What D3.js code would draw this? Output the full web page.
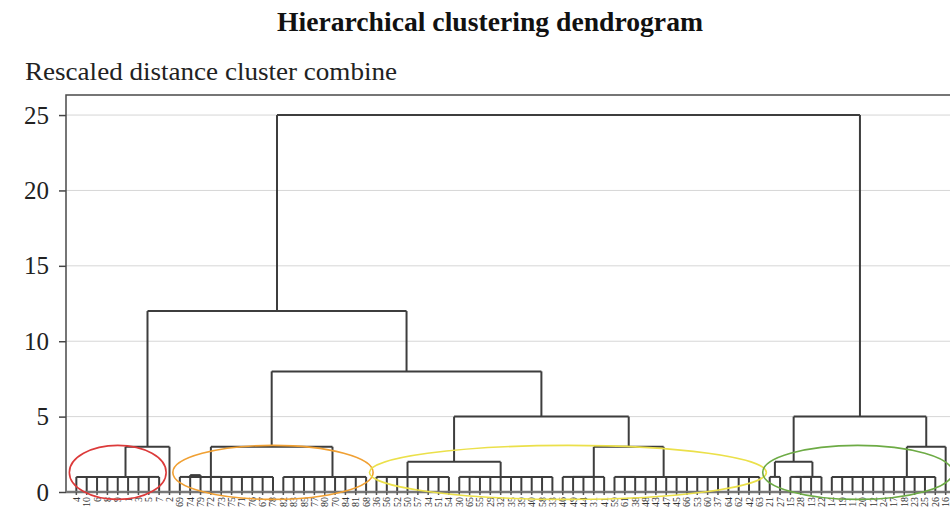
<!DOCTYPE html>
<html>
<head>
<meta charset="utf-8">
<script src="https://cdn.jsdelivr.net/npm/d3@7"></script>
<style>
  body { margin: 0; background: #fff; }
  svg { display: block; }
  text { font-family: "Liberation Serif", "DejaVu Serif", serif; }
</style>
</head>
<body>
<svg id="chart" width="950" height="511"></svg>
<script>
// leaf order along the bottom, left to right
var leafLabels = [4,10,6,8,9,1,3,5,7,2,
  69,74,79,72,73,75,71,76,67,78,82,83,85,77,80,70,84,81,68,
  36,56,52,50,57,34,51,54,30,65,55,29,32,35,39,40,58,33,
  46,49,44,31,41,59,61,38,48,43,47,45,66,53,60,37,64,62,42,63,
  21,27,15,28,13,22,14,19,11,20,12,24,17,18,23,25,26,16];

// merges: [name, rescaled distance, children (leaf labels or merge names)]
var merges = [
  ["r1", 1, [4,10,6,8,9,1]],
  ["r2", 1, [3,5,7]],
  ["red", 1, ["r1","r2"]],
  ["redGrp", 3, ["red", 2]],
  ["o1", 1.12, [74,79]],
  ["o2", 1, [69,"o1"]],
  ["o3", 1, [72,73]],
  ["o4", 1, [75,71,76,67,78]],
  ["o5", 1, ["o3","o4"]],
  ["orL", 1, ["o2","o5"]],
  ["o6", 1, [82,83,85,77,80,70]],
  ["o7", 1, [84,81,68]],
  ["orR", 1, ["o6","o7"]],
  ["orange", 3, ["orL","orR"]],
  ["y1", 1, [36,56,52]],
  ["y2", 1, [50,57,34,51,54]],
  ["yA", 1, ["y1","y2"]],
  ["y3", 1, [30,65,55,29]],
  ["y4", 1, [32,35,39,40,58,33]],
  ["yB", 1, ["y3","y4"]],
  ["yAB", 2, ["yA","yB"]],
  ["y5", 1, [46,49,44]],
  ["y6", 1, ["y5",31]],
  ["yC", 1, ["y6",41]],
  ["y7", 1, [59,61,38]],
  ["y8", 1, [48,43,47,45,66,53,60,37,64,62,42,63]],
  ["yD", 1, ["y7","y8"]],
  ["yCD", 3, ["yC","yD"]],
  ["yellow", 5, ["yAB","yCD"]],
  ["mid", 8, ["orange","yellow"]],
  ["left", 12, ["redGrp","mid"]],
  ["g1", 1, [21,27]],
  ["g2", 1, [15,28]],
  ["g3", 1, ["g2",13]],
  ["gB", 1, ["g3",22]],
  ["gAB", 2, ["g1","gB"]],
  ["g4", 1, [14,19,11,20,12,24,17,18,23,25]],
  ["gC", 1, ["g4",26]],
  ["gCD", 3, ["gC",16]],
  ["green", 5, ["gAB","gCD"]],
  ["root", 25, ["left","green"]]
];

var yTicks = [0,5,10,15,20,25];
// circled groups: first and last leaf
var circled = [[4,7],[69,68],[36,63],[21,16]];
var circleColors = ["#dc3a3a", "#f0a033", "#ebe04a", "#6dab45"];

(function() {
var svg = d3.select("#chart");
var plotLeft = 66, plotRight = 956, plotTop = 95, plotBottom = 492;

var x = d3.scalePoint()
    .domain(leafLabels.map(String))
    .range([plotLeft, plotRight])
    .padding(1);

var y = d3.scaleLinear()
    .domain([0, 26.33])
    .range([plotBottom, plotTop]);

// title
svg.append("text")
    .attr("x", 490)
    .attr("y", 31)
    .attr("text-anchor", "middle")
    .attr("font-weight", "bold")
    .attr("font-size", 28)
    .attr("textLength", 426)
    .attr("lengthAdjust", "spacingAndGlyphs")
    .attr("fill", "#111")
    .text("Hierarchical clustering dendrogram");

svg.append("text")
    .attr("x", 25)
    .attr("y", 80)
    .attr("font-size", 25)
    .attr("textLength", 372)
    .attr("lengthAdjust", "spacingAndGlyphs")
    .attr("fill", "#222")
    .text("Rescaled distance cluster combine");

// grid lines
svg.append("g")
  .selectAll("line")
  .data(yTicks.filter(function(d) { return d > 0; }))
  .join("line")
    .attr("x1", plotLeft).attr("x2", plotRight)
    .attr("y1", function(d) { return y(d); })
    .attr("y2", function(d) { return y(d); })
    .attr("stroke", "#d6d6d6")
    .attr("stroke-width", 1);

// y axis
var yAxis = svg.append("g")
    .attr("transform", "translate(" + plotLeft + ",0)")
    .call(d3.axisLeft(y).tickValues(yTicks).tickSize(7).tickPadding(10));
yAxis.select(".domain").remove();
yAxis.selectAll(".tick line").attr("stroke", "#444").attr("stroke-width", 1.5);
yAxis.selectAll(".tick text")
    .attr("font-family", "Liberation Serif, serif")
    .attr("font-size", 25)
    .attr("fill", "#222");

// frame
svg.append("rect")
    .attr("x", plotLeft).attr("y", plotTop)
    .attr("width", plotRight - plotLeft).attr("height", plotBottom - plotTop)
    .attr("fill", "none")
    .attr("stroke", "#4a4a4a")
    .attr("stroke-width", 1.5);

// build node positions
var nodes = new Map();
leafLabels.forEach(function(l) {
  nodes.set(String(l), { x: x(String(l)), h: 0 });
});
merges.forEach(function(m) {
  var kids = m[2].map(function(c) { return nodes.get(String(c)); });
  nodes.set(m[0], { x: d3.mean(kids, function(k) { return k.x; }), h: m[1], kids: kids });
});

var g = svg.append("g")
    .attr("fill", "none")
    .attr("stroke", "#3d3d3d")
    .attr("stroke-width", 2);

merges.forEach(function(m) {
  var n = nodes.get(m[0]);
  var xs = n.kids.map(function(k) { return k.x; });
  g.append("line")
      .attr("x1", d3.min(xs)).attr("x2", d3.max(xs))
      .attr("y1", y(n.h)).attr("y2", y(n.h));
  n.kids.forEach(function(k) {
    g.append("line")
        .attr("x1", k.x).attr("x2", k.x)
        .attr("y1", y(k.h)).attr("y2", y(n.h));
  });
});

// base line and leaf ticks
svg.append("line")
    .attr("x1", plotLeft).attr("x2", plotRight)
    .attr("y1", plotBottom).attr("y2", plotBottom)
    .attr("stroke", "#777")
    .attr("stroke-width", 2.5);

svg.append("g")
  .selectAll("line")
  .data(leafLabels)
  .join("line")
    .attr("x1", function(d) { return x(String(d)); })
    .attr("x2", function(d) { return x(String(d)); })
    .attr("y1", plotBottom).attr("y2", plotBottom + 3)
    .attr("stroke", "#555")
    .attr("stroke-width", 1.5);

// leaf labels
svg.append("g")
  .selectAll("text")
  .data(leafLabels)
  .join("text")
    .attr("transform", function(d) {
      return "translate(" + (x(String(d)) + 3.5) + "," + (plotBottom + 5) + ") rotate(-90)";
    })
    .attr("text-anchor", "end")
    .attr("font-size", 10)
    .attr("fill", "#333")
    .text(function(d) { return d; });

// circled clusters
svg.append("g")
  .selectAll("ellipse")
  .data(circled)
  .join("ellipse")
    .attr("cx", function(d) { return (x(String(d[0])) + x(String(d[1]))) / 2; })
    .attr("cy", y(1.3))
    .attr("rx", function(d) { return (x(String(d[1])) - x(String(d[0]))) / 2 + 7; })
    .attr("ry", 27)
    .attr("fill", "none")
    .attr("stroke", function(d, i) { return circleColors[i]; })
    .attr("stroke-width", 1.6);
})();
</script>
</body>
</html>
